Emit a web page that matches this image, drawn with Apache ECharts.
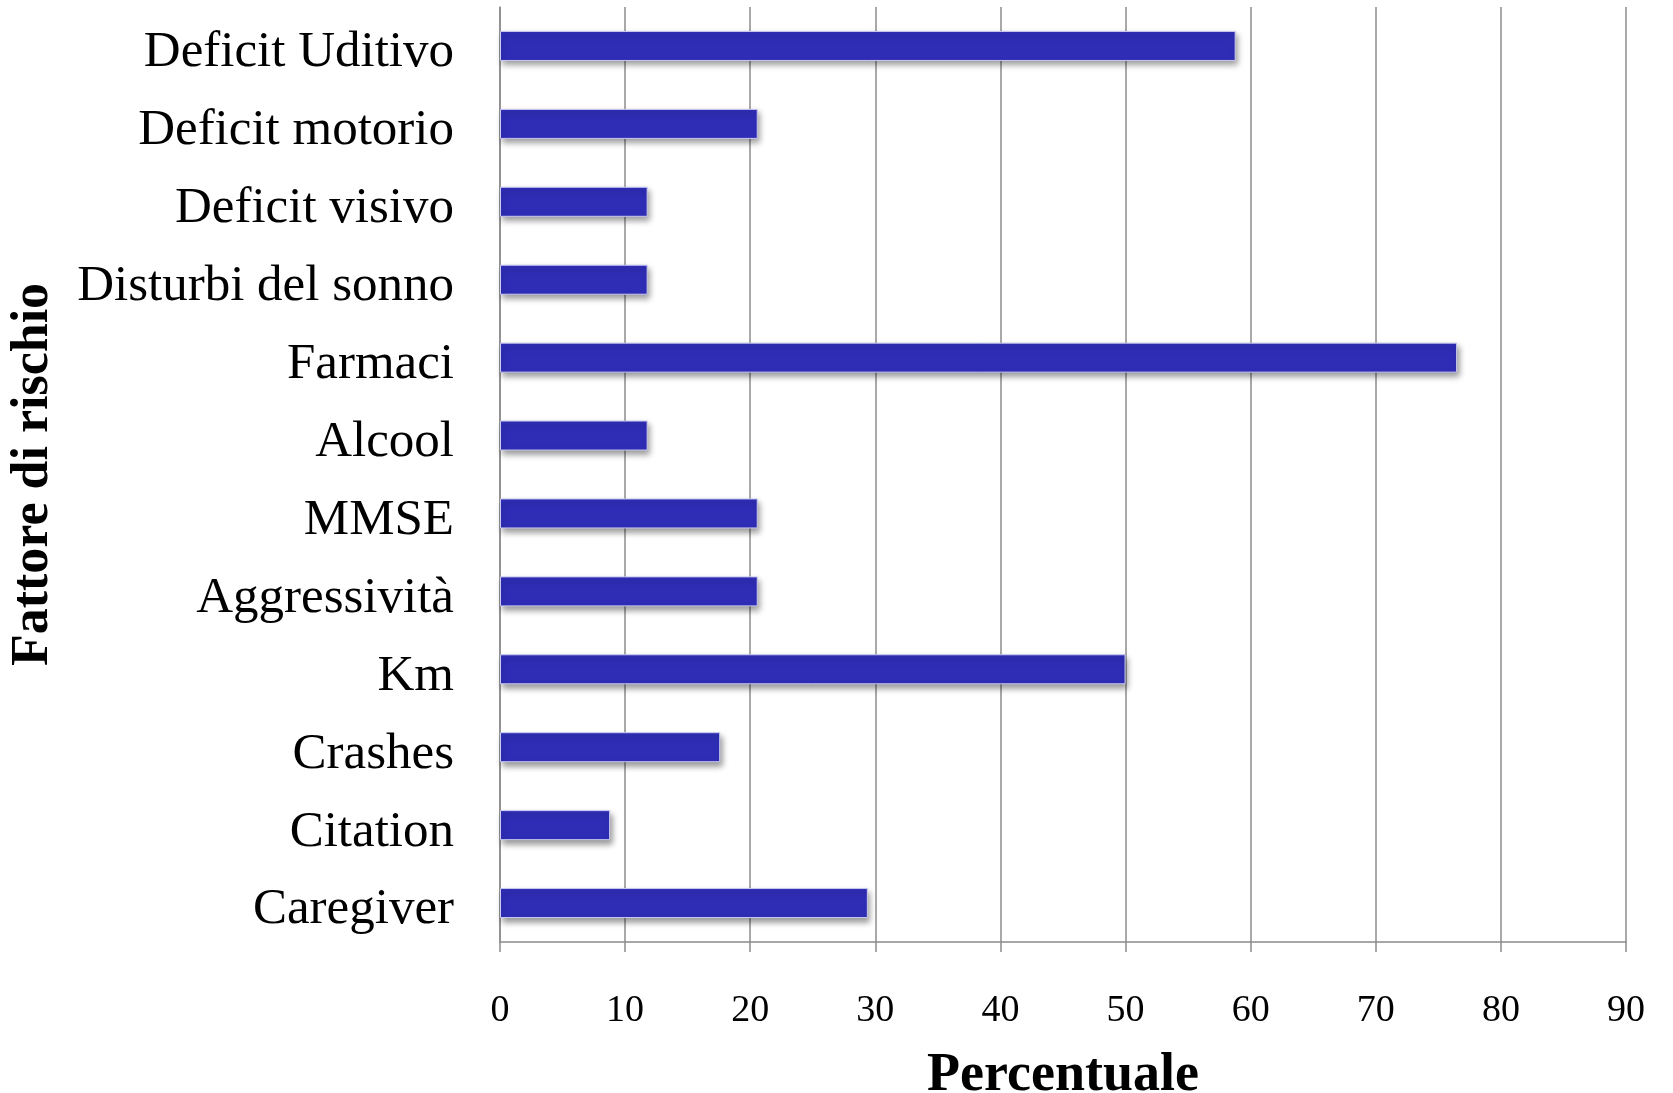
<!DOCTYPE html>
<html>
<head>
<meta charset="utf-8">
<script src="https://cdn.jsdelivr.net/npm/echarts@6/dist/echarts.min.js"></script>
<style>
    html, body { margin: 0; padding: 0; background: #fff; }
    #main { width: 1673px; height: 1093px; }
</style>
</head>
<body>
<div id="main"></div>
<script>
// fattori di rischio, dall'alto verso il basso
let categorie = ['Deficit Uditivo', 'Deficit motorio', 'Deficit visivo', 'Disturbi del sonno',
    'Farmaci', 'Alcool', 'MMSE', 'Aggressività', 'Km', 'Crashes', 'Citation', 'Caregiver'];
let percentuali = [58.8, 20.6, 11.8, 11.8, 76.5, 11.8, 20.6, 20.6, 50.0, 17.6, 8.8, 29.4];
let tickX = ['0', '10', '20', '30', '40', '50', '60', '70', '80', '90'];

let font = 'Liberation Serif';

let myChart = echarts.init(document.getElementById('main'));

let option = {
    animation: false,
    backgroundColor: '#fff',
    grid: {
        left: 500,
        right: 47,
        top: 7,
        bottom: 151,
        outerBoundsMode: 'none'
    },
    xAxis: {
        type: 'value',
        min: 0,
        max: 90,
        interval: 10,
        name: 'Percentuale',
        nameLocation: 'middle',
        nameGap: 107,
        nameTextStyle: {fontFamily: font, fontSize: 54, fontWeight: 'bold', color: '#000'},
        axisLine: {show: true, lineStyle: {color: '#8c8c8c', width: 1.5}},
        axisTick: {show: true, length: 10, lineStyle: {color: '#8c8c8c', width: 1.5}},
        splitLine: {show: true, lineStyle: {color: '#8c8c8c', width: 1.5}},
        axisLabel: {
            margin: 50,
            fontFamily: font,
            fontSize: 38,
            color: '#000',
            formatter: function(v){ return tickX[Math.round(v / 10)]; }
        }
    },
    yAxis: {
        type: 'category',
        inverse: true,
        data: categorie,
        name: 'Fattore di rischio',
        nameLocation: 'middle',
        nameGap: 440,
        nameTextStyle: {fontFamily: font, fontSize: 52, fontWeight: 'bold', color: '#000'},
        axisLine: {show: true, lineStyle: {color: '#8c8c8c', width: 1.5}},
        axisTick: {show: false},
        axisLabel: {
            margin: 46,
            formatter: function(v){ return '{t|' + v + '}'; },
            rich: {
                t: {fontFamily: font, fontSize: 51, color: '#000', padding: [14, 0, 0, 0]}
            }
        }
    },
    series: [
        {
            type: 'bar',
            data: percentuali,
            barWidth: 30,
            itemStyle: {
                color: '#2f2db6',
                borderColor: '#c9c9f2',
                borderWidth: 1,
                shadowColor: 'rgba(0,0,0,0.4)',
                shadowBlur: 6,
                shadowOffsetX: 2,
                shadowOffsetY: 4
            }
        }
    ]
};

myChart.setOption(option);
</script>
</body>
</html>
